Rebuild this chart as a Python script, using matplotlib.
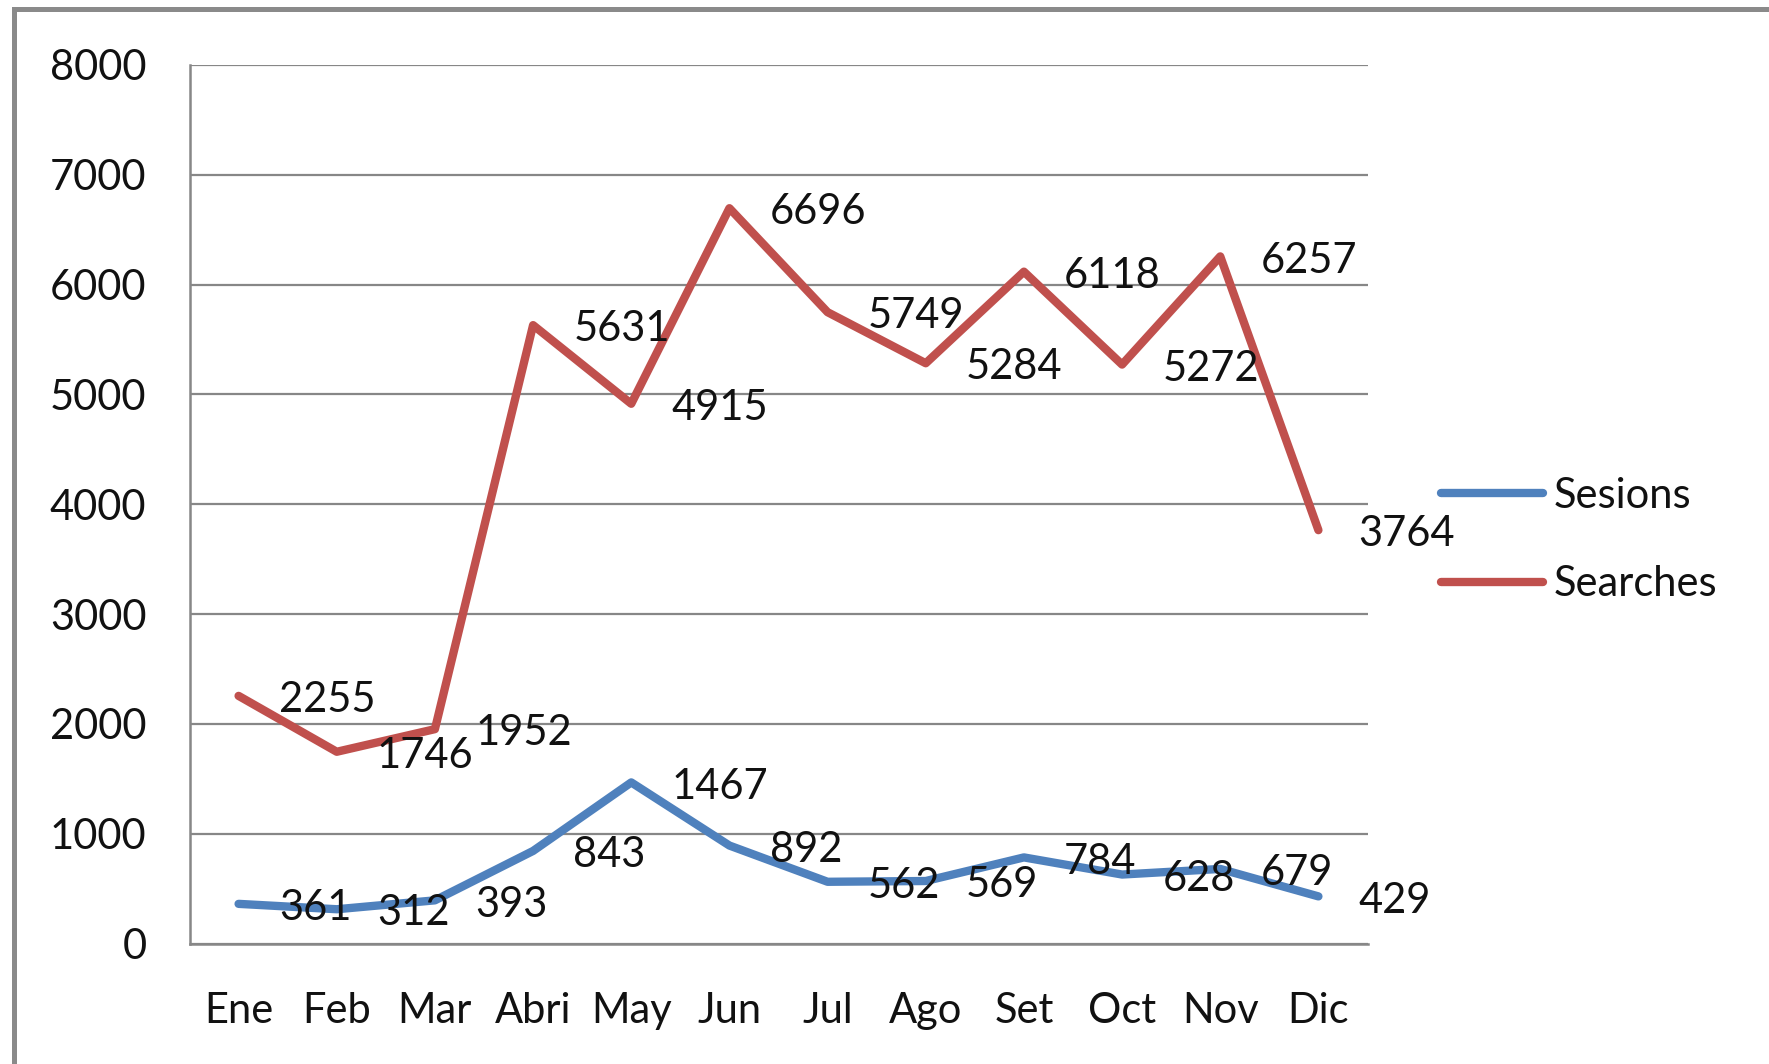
import matplotlib
matplotlib.use('Agg')
import matplotlib.pyplot as plt
from matplotlib.patches import Rectangle

plt.rcParams['font.family'] = ['Lato', 'DejaVu Sans']

# Data
months = ['Ene', 'Feb', 'Mar', 'Abri', 'May', 'Jun', 'Jul', 'Ago', 'Set', 'Oct', 'Nov', 'Dic']
sesions = [361, 312, 393, 843, 1467, 892, 562, 569, 784, 628, 679, 429]
searches = [2255, 1746, 1952, 5631, 4915, 6696, 5749, 5284, 6118, 5272, 6257, 3764]

W, H = 1769, 1064
fig = plt.figure(figsize=(W / 100, H / 100), dpi=100)
ax = fig.add_axes([189.5 / W, 1 - 943.5 / H, (1367.5 - 189.5) / W, (943.5 - 65) / H])

grid_col = '#878787'
blue = '#4F81BD'
red = '#C0504D'
fs = 30

x = list(range(len(months)))
ax.plot(x, sesions, color=blue, lw=6, label='Sesions',
        solid_capstyle='round', solid_joinstyle='round')
ax.plot(x, searches, color=red, lw=6, label='Searches',
        solid_capstyle='round', solid_joinstyle='round')

# data labels to the right of each point
for series in (sesions, searches):
    for i, v in enumerate(series):
        ax.annotate(str(v), (i, v), xytext=(29, -3), textcoords='offset points',
                    ha='left', va='center', fontsize=fs, color='#111111',
                    annotation_clip=False)

ax.set_xlim(-0.5, len(months) - 0.5)
ax.set_ylim(0, 8000)
ax.set_yticks(range(0, 8001, 1000))
ax.set_xticks(x)
ax.set_xticklabels(months)
ax.tick_params(axis='both', length=0, labelsize=fs, colors='#111111')
ax.tick_params(axis='y', pad=31)
ax.tick_params(axis='x', pad=35)

ax.grid(axis='y', color=grid_col, lw=1.6)
ax.set_axisbelow(True)
for side in ('top', 'right'):
    ax.spines[side].set_visible(False)
for side in ('left', 'bottom'):
    ax.spines[side].set_color(grid_col)
    ax.spines[side].set_linewidth(1.8)

leg = fig.legend(loc='center left', bbox_to_anchor=(1441 / W, 1 - 540 / H),
                 frameon=False, fontsize=fs, handlelength=2.45, handletextpad=0.25,
                 labelspacing=1.22, borderpad=0, borderaxespad=0)
for t in leg.get_texts():
    t.set_color('#111111')

# outer chart frame (cropped at right and bottom)
fig.patches.append(Rectangle((13.5 / W, -0.1), 1.2, (H - 8.5) / H + 0.1,
                             transform=fig.transFigure, fill=False,
                             ec='#8a8a8a', lw=3.6))

fig.savefig('out.png', dpi=100)
